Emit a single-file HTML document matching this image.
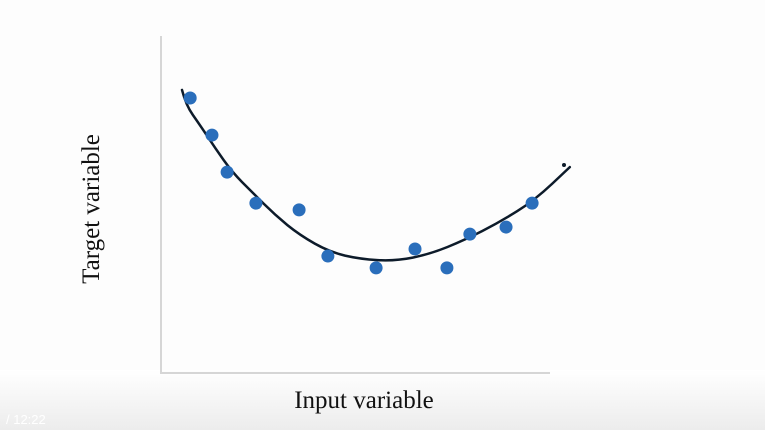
<!DOCTYPE html>
<html><head><meta charset="utf-8"><style>
html,body{margin:0;padding:0;width:765px;height:430px;overflow:hidden;background:#fff}
</style></head><body>
<svg width="765" height="430" xmlns="http://www.w3.org/2000/svg">
<defs><linearGradient id="g" x1="0" y1="0" x2="0" y2="1"><stop offset="0" stop-color="#ffffff"/><stop offset="1" stop-color="#ececec"/></linearGradient></defs>
<rect x="0" y="0" width="765" height="430" fill="#fdfdfd"/>
<rect x="0" y="370" width="765" height="60" fill="url(#g)"/>
<line x1="161" y1="36" x2="161" y2="374" stroke="#d6d6d6" stroke-width="2"/>
<line x1="160" y1="373" x2="550" y2="373" stroke="#d6d6d6" stroke-width="2"/>
<g id="curve"></g><g id="pts"></g>
<circle cx="564" cy="165" r="2" fill="#0d1b2a"/>
<text x="0" y="0" transform="translate(99,209) rotate(-90)" text-anchor="middle" font-family="Liberation Serif, serif" font-size="25" fill="#111">Target variable</text>
<text x="364" y="408" text-anchor="middle" font-family="Liberation Serif, serif" font-size="25" fill="#111">Input variable</text>
<text x="6" y="424" font-family="Liberation Sans, sans-serif" font-size="13" fill="#ffffff">/  12:22</text>
</svg>
<script>
const xVals=[0.75,1.31,1.70,2.44,3.55,4.29,5.53,6.53,7.35,7.94,8.87,9.54];
const yVals=[8.16,7.06,5.96,5.04,4.84,3.47,3.12,3.68,3.12,4.12,4.33,5.04];
const curveX=[0.54,0.64,1.00,1.39,1.83,2.34,2.93,3.57,4.34,5.12,6.02,6.92,7.81,8.71,9.61,10.51];
const curveY=[8.40,7.95,7.36,6.68,5.96,5.37,4.69,4.09,3.59,3.38,3.32,3.53,3.95,4.48,5.13,6.11];
const xs=v=>161+v*38.9, ys=v=>373-v*33.7;
const NS='http://www.w3.org/2000/svg';
const P=curveX.map((x,i)=>[xs(x),ys(curveY[i])]);
let d='M'+P[0][0].toFixed(1)+' '+P[0][1].toFixed(1);
for(let i=1;i<P.length-1;i++){
  const mx=(P[i][0]+P[i+1][0])/2, my=(P[i][1]+P[i+1][1])/2;
  d+=' Q'+P[i][0].toFixed(1)+' '+P[i][1].toFixed(1)+' '+mx.toFixed(1)+' '+my.toFixed(1);
}
d+=' L'+P[P.length-1][0].toFixed(1)+' '+P[P.length-1][1].toFixed(1);
const p=document.createElementNS(NS,'path');
p.setAttribute('d',d);p.setAttribute('fill','none');p.setAttribute('stroke','#0d1b2a');p.setAttribute('stroke-width','2.5');p.setAttribute('stroke-linejoin','round');p.setAttribute('stroke-linecap','round');


document.getElementById('curve').appendChild(p);
xVals.forEach((x,i)=>{
const c=document.createElementNS(NS,'circle');
c.setAttribute('cx',xs(x));c.setAttribute('cy',ys(yVals[i]));c.setAttribute('r','6.5');c.setAttribute('fill','#2a6ebb');


document.getElementById('pts').appendChild(c);
});
</script>
</body></html>
